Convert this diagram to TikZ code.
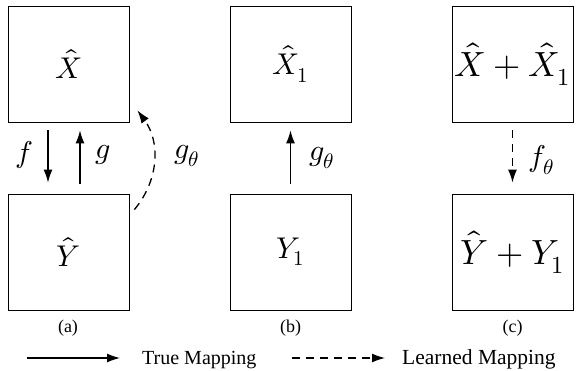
\documentclass[tikz,border=0pt]{standalone}
\usepackage{fontspec}
\setmainfont{Liberation Serif}
\usepackage{unicode-math}
\setmathfont{Latin Modern Math}
\usetikzlibrary{arrows.meta,calc}
\begin{document}
\begin{tikzpicture}[x=1pt,y=-1pt,
  box/.style={draw,line width=0.8pt,minimum width=121pt,minimum height=116pt,inner sep=0pt,font=\fontsize{30}{36}\selectfont},
  boxc/.style={box,font=\fontsize{35}{40}\selectfont},
  tr/.style={line width=1.3pt,-{Latex[length=13pt,width=9pt]}},
  lr/.style={tr,dash pattern=on 8pt off 6pt},
  lab/.style={font=\fontsize{30}{36}\selectfont,inner sep=0pt},
  captxt/.style={font=\fontsize{18}{21}\selectfont,inner sep=0pt},
  leg/.style={font=\fontsize{20}{24}\selectfont,inner sep=0pt,anchor=base west}]
\useasboundingbox (0,0) rectangle (578,371);
% (a)
\node[box] (Xa) at (68.5,64) {$\hat{X}$};
\node[box] (Ya) at (68.5,252) {$\hat{Y}$};
\draw[tr] ([xshift=-20.5pt,yshift=-8pt]Xa.south) -- ([xshift=-20.5pt,yshift=11pt]Ya.north);
\draw[tr] ([xshift=11.5pt,yshift=10pt]Ya.north) -- ([xshift=11.5pt,yshift=-8pt]Xa.south);
\draw[lr] ([xshift=5pt,yshift=-16pt]Ya.north east) to[bend right=38] ([xshift=8pt,yshift=12pt]Xa.south east);
\node[lab] (fa) at (24,155) {$f$};
\node[lab] (ga) at (103,155) {$g$};
\node[lab] (gta) at (187,156) {$g_\theta$};
\node[captxt] (ca) at (68,328) {(a)};
% (b)
\node[box] (Xb) at (290.5,64) {$\hat{X}_1$};
\node[box] (Yb) at (290.5,252) {$Y_1$};
\draw[tr] ([yshift=10pt]Yb.north) -- ([yshift=-8pt]Xb.south);
\node[lab] (gtb) at (322,158) {$g_\theta$};
\node[captxt] (cb) at (290.5,328) {(b)};
% (c)
\node[boxc] (Xc) at (512.5,64) {$\hat{X}+\hat{X}_1$};
\node[boxc] (Yc) at (512.5,252) {$\hat{Y}+Y_1$};
\draw[lr] ([yshift=-8pt]Xc.south) -- ([yshift=11pt]Yc.north);
\node[lab] (ftc) at (541,160) {$f_\theta$};
\node[captxt] (cc) at (512.5,328) {(c)};
% legend
\coordinate (s1) at (27,358);
\coordinate (e1) at (120,358);
\draw[tr] (s1) -- (e1);
\node[leg] (t1) at (142,364) {True Mapping};
\coordinate (s2) at (292,358);
\coordinate (e2) at (385,358);
\draw[lr] (s2) -- (e2);
\node[leg,font=\fontsize{21.5}{25}\selectfont] (t2) at (402,364) {Learned Mapping};
\end{tikzpicture}
\end{document}
